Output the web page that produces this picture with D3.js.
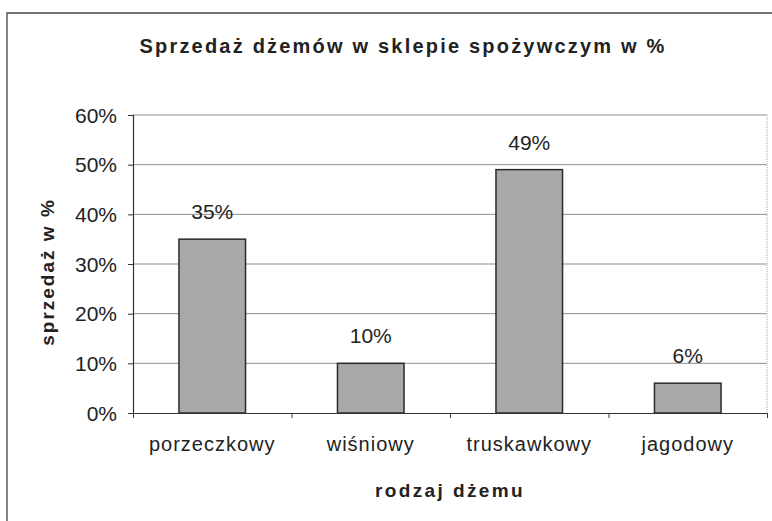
<!DOCTYPE html>
<html>
<head>
<meta charset="utf-8">
<script src="https://cdn.jsdelivr.net/npm/d3@7"></script>
<style>
  body { margin: 0; background: #fff; }
  svg { display: block; font-family: "Liberation Sans", Arial, sans-serif; }
</style>
</head>
<body>
<div id="chart"></div>
<script>
// data
const categories = ['porzeczkowy', 'wiśniowy', 'truskawkowy', 'jagodowy'];
const sales = [0.35, 0.10, 0.49, 0.06];
const yTicks = [0, 0.1, 0.2, 0.3, 0.4, 0.5, 0.6];

const width = 772;
const height = 521;
const margin = { top: 115, right: 5, bottom: 108, left: 133 };
const innerWidth = width - margin.left - margin.right;
const innerHeight = height - margin.top - margin.bottom;
const ink = '#222';

const svg = d3.select('#chart')
    .append('svg')
    .attr('width', width)
    .attr('height', height);

// outer frame (only top and left edges are in the shot)
svg.append('path')
    .attr('d', `M7,${height} V13 H${width}`)
    .attr('fill', 'none')
    .attr('stroke', '#444')
    .attr('stroke-width', 1.3);

// title
svg.append('text')
    .attr('x', 403)
    .attr('y', 53)
    .attr('text-anchor', 'middle')
    .attr('font-size', 20)
    .attr('font-weight', 'bold')
    .attr('letter-spacing', 2.2)
    .attr('fill', ink)
    .text('Sprzedaż dżemów w sklepie spożywczym w %');

const g = svg.append('g')
    .attr('transform', `translate(${margin.left}, ${margin.top})`);

// scales
const xScale = d3.scaleBand()
    .domain(categories)
    .range([0, innerWidth])
    .paddingInner(0.58)
    .paddingOuter(0.29);

const yScale = d3.scaleLinear()
    .domain([0, 0.6])
    .range([innerHeight, 0]);

// gridlines
g.selectAll('.grid')
    .data(yTicks.filter(d => d > 0))
    .enter()
    .append('line')
    .attr('class', 'grid')
    .attr('x1', 0)
    .attr('x2', innerWidth)
    .attr('y1', d => yScale(d))
    .attr('y2', d => yScale(d))
    .attr('stroke', '#8f8f8f')
    .attr('stroke-width', 1);

// right edge of plot area
g.append('line')
    .attr('x1', innerWidth)
    .attr('x2', innerWidth)
    .attr('y1', 0)
    .attr('y2', innerHeight)
    .attr('stroke', '#aaa')
    .attr('stroke-dasharray', '1,1');

// bars
g.selectAll('.bar')
    .data(sales)
    .enter()
    .append('rect')
    .attr('class', 'bar')
    .attr('x', (d, i) => xScale(categories[i]))
    .attr('y', d => yScale(d))
    .attr('width', xScale.bandwidth())
    .attr('height', d => innerHeight - yScale(d))
    .attr('fill', '#a9a9a9')
    .attr('stroke', '#2a2a2a')
    .attr('stroke-width', 1.5);

// value labels
g.selectAll('.value')
    .data(sales)
    .enter()
    .append('text')
    .attr('class', 'value')
    .attr('x', (d, i) => xScale(categories[i]) + xScale.bandwidth() / 2)
    .attr('y', d => yScale(d) - 20)
    .attr('text-anchor', 'middle')
    .attr('font-size', 21)
    .attr('fill', ink)
    .text(d => d3.format('.0%')(d));

// y axis
const yAxis = d3.axisLeft(yScale)
    .tickValues(yTicks)
    .tickFormat(d3.format('.0%'))
    .tickSize(5)
    .tickPadding(11);
const yAxisG = g.append('g')
    .call(yAxis)
    .attr('font-size', 21)
    .attr('font-family', '"Liberation Sans", Arial, sans-serif');
yAxisG.select('.domain').attr('stroke', '#333').attr('stroke-width', 1.2);
yAxisG.selectAll('.tick line').attr('stroke', '#333');
yAxisG.selectAll('.tick text')
    .attr('dy', null)
    .attr('y', 7)
    .attr('fill', ink);

// x axis: ticks on category boundaries
const boundScale = d3.scaleLinear()
    .domain([0, categories.length])
    .range([0, innerWidth]);
const xTickAxis = d3.axisBottom(boundScale)
    .tickValues(d3.range(categories.length + 1))
    .tickFormat('')
    .tickSize(5)
    .tickSizeOuter(0);
const xTickG = g.append('g')
    .attr('transform', `translate(0, ${innerHeight})`)
    .call(xTickAxis);
xTickG.select('.domain').attr('stroke', '#333').attr('stroke-width', 1.2);
xTickG.selectAll('.tick line').attr('stroke', '#333');
xTickG.selectAll('.tick text').remove();

// x axis labels
const xAxis = d3.axisBottom(xScale)
    .tickSize(0)
    .tickPadding(23);
const xAxisG = g.append('g')
    .attr('transform', `translate(0, ${innerHeight})`)
    .call(xAxis)
    .attr('font-size', 20)
    .attr('font-family', '"Liberation Sans", Arial, sans-serif');
xAxisG.select('.domain').remove();
xAxisG.selectAll('.tick text')
    .attr('dy', null)
    .attr('y', 38)
    .attr('letter-spacing', 1)
    .attr('fill', ink);

// axis titles
svg.append('text')
    .attr('x', margin.left + innerWidth / 2)
    .attr('y', 497)
    .attr('text-anchor', 'middle')
    .attr('font-size', 19)
    .attr('font-weight', 'bold')
    .attr('letter-spacing', 2.4)
    .attr('fill', ink)
    .text('rodzaj dżemu');

svg.append('text')
    .attr('transform', 'rotate(-90)')
    .attr('x', -272)
    .attr('y', 54)
    .attr('text-anchor', 'middle')
    .attr('font-size', 19)
    .attr('font-weight', 'bold')
    .attr('letter-spacing', 2)
    .attr('fill', ink)
    .text('sprzedaż w %');
</script>
</body>
</html>
